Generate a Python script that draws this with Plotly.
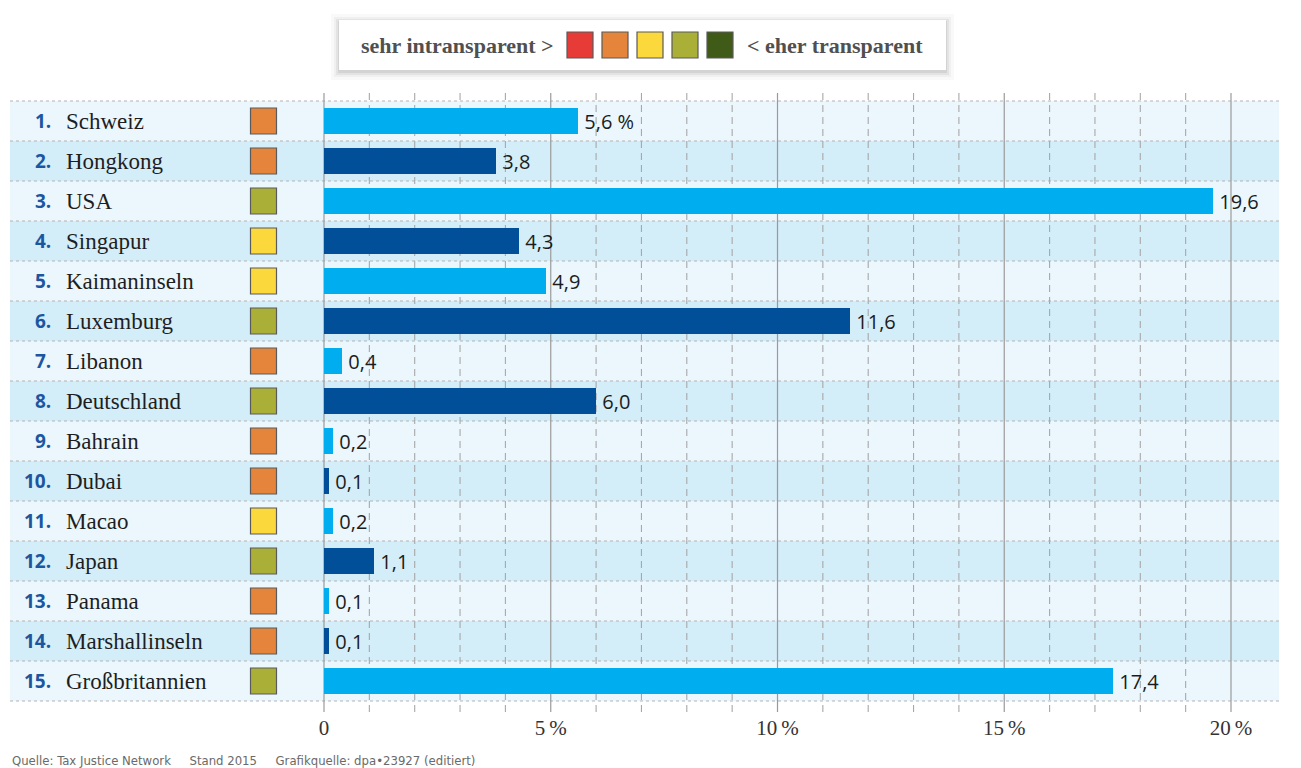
import plotly.graph_objects as go

# ---------------- data ----------------
ranks = list(range(1, 16))
countries = ["Schweiz", "Hongkong", "USA", "Singapur", "Kaimaninseln", "Luxemburg",
             "Libanon", "Deutschland", "Bahrain", "Dubai", "Macao", "Japan",
             "Panama", "Marshallinseln", "Großbritannien"]
shares = [5.6, 3.8, 19.6, 4.3, 4.9, 11.6, 0.4, 6.0, 0.2, 0.1, 0.2, 1.1, 0.1, 0.1, 17.4]
share_labels = ["5,6 %", "3,8", "19,6", "4,3", "4,9", "11,6", "0,4", "6,0", "0,2",
                "0,1", "0,2", "1,1", "0,1", "0,1", "17,4"]
# transparency level 1 (sehr intransparent) ... 5 (eher transparent)
levels = [2, 2, 4, 3, 3, 4, 2, 4, 2, 2, 3, 4, 2, 2, 4]
level_colors = ["#e63b37", "#e5843b", "#fbd83c", "#aab037", "#3f5b17"]
legend_left = "sehr intransparent >"
legend_right = "< eher transparent"
tick_vals = [0, 5, 10, 15, 20]
tick_text = ["0", "5\u2009%", "10\u2009%", "15\u2009%", "20\u2009%"]
source_parts = ["Quelle: Tax Justice Network", "Stand 2015", "Grafikquelle: dpa\u202223927 (editiert)"]

# ---------------- layout helpers ----------------
OFF = 8                      # default page margin of the html body
W, H = 1301 - OFF, 768 - OFF
X0_PX, PX_PER_UNIT = 324 - OFF, 45.35
ROW0_PX, ROW_PX = 121 - OFF, 40
PLOT_BOTTOM = 712 - OFF


def px_x(p):
    """page pixel -> x data"""
    return (p - OFF - X0_PX) / PX_PER_UNIT


def px_y(p):
    """page pixel -> y data"""
    return (p - OFF - ROW0_PX) / ROW_PX


def pap_x(p):
    return (p - OFF) / W


rows = list(range(len(countries)))
bar_light, bar_dark = "#00aeef", "#004f98"
band_light, band_dark = "#ebf7fd", "#d3edf9"
SERIF = "Liberation Serif, Times New Roman, serif"
SANS = "Open Sans, Noto Sans, sans-serif"

fig = go.Figure()
shapes = []
annotations = []

# row bands
for i in rows:
    shapes.append(dict(type="rect", layer="below", xref="paper", yref="y",
                       x0=pap_x(10), x1=pap_x(1279), y0=i - 0.5, y1=i + 0.5,
                       fillcolor=band_light if i % 2 == 0 else band_dark, line_width=0))

# vertical grid lines
for v in range(0, 21):
    solid = v % 5 == 0
    shapes.append(dict(type="line", layer="below", xref="x", yref="y",
                       x0=v, x1=v, y0=px_y(93), y1=px_y(712),
                       line=dict(color="#9a9a9a" if solid else "#a8a8a8",
                                 width=1.2 if solid else 1.1,
                                 dash="solid" if solid else "7px,5px")))

# dotted row separators
for i in range(len(rows) + 1):
    shapes.append(dict(type="line", layer="below", xref="paper", yref="y",
                       x0=pap_x(10), x1=pap_x(1279), y0=i - 0.5, y1=i - 0.5,
                       line=dict(color="#b4b4b4", width=1.2, dash="3px,3px")))

# legend box with soft shadow
for grow, op in [(8, 0.025), (5, 0.035), (3, 0.05), (1, 0.07)]:
    shapes.append(dict(type="rect", layer="below", xref="paper", yref="y",
                       x0=pap_x(339 - grow), x1=pap_x(946 + grow),
                       y0=px_y(20 - grow + 2), y1=px_y(70 + grow + 2),
                       fillcolor="rgba(0,0,0,1)", opacity=op, line_width=0))
shapes.append(dict(type="rect", layer="below", xref="paper", yref="y",
                   x0=pap_x(339), x1=pap_x(946), y0=px_y(20), y1=px_y(70),
                   fillcolor="white", line_width=0))

# bars
fig.add_trace(go.Bar(
    orientation="h", x=shares, y=rows, width=0.64,
    marker=dict(color=[bar_light if i % 2 == 0 else bar_dark for i in rows],
                line=dict(width=0)),
    text=["\u2009" + s for s in share_labels], textposition="outside",
    textfont=dict(family=SANS, size=20, color="#1c1c1c"),
    constraintext="none", cliponaxis=False, hoverinfo="skip", showlegend=False))

# transparency squares per country
fig.add_trace(go.Scatter(
    x=[px_x(263.5)] * len(rows), y=rows, mode="markers",
    marker=dict(symbol="square", size=26,
                color=[level_colors[l - 1] for l in levels],
                line=dict(color="#5a5a5a", width=1.2)),
    hoverinfo="skip", showlegend=False, cliponaxis=False))

# legend squares
legend_centers = [580, 615, 650, 685, 720]
fig.add_trace(go.Scatter(
    x=[px_x(c) for c in legend_centers], y=[px_y(45)] * 5, mode="markers",
    marker=dict(symbol="square", size=26, color=level_colors,
                line=dict(color="#5a5a5a", width=1.2)),
    hoverinfo="skip", showlegend=False, cliponaxis=False))

annotations.append(dict(xref="paper", yref="y", x=pap_x(556), y=px_y(45),
                        text=f"<b>{legend_left}</b>", showarrow=False, xanchor="right",
                        font=dict(family=SERIF, size=22, color="#505050")))
annotations.append(dict(xref="paper", yref="y", x=pap_x(745), y=px_y(45),
                        text=f"<b>{legend_right}</b>", showarrow=False, xanchor="left",
                        font=dict(family=SERIF, size=22, color="#505050")))

# rank numbers and country names
for i in rows:
    annotations.append(dict(xref="paper", yref="y", x=pap_x(53), y=i,
                            text=f"<b>{ranks[i]}.</b>", showarrow=False, xanchor="right",
                            font=dict(family=SANS, size=19, color="#1d56a0")))
    annotations.append(dict(xref="paper", yref="y", x=pap_x(64), y=i,
                            text=countries[i], showarrow=False, xanchor="left",
                            font=dict(family=SERIF, size=23, color="#1e1e1e")))

# source line
sep = "\u00a0" * 5
annotations.append(dict(xref="paper", yref="paper", x=pap_x(10), y=0,
                        yshift=-(760 - 712),
                        text=sep.join(source_parts), showarrow=False, xanchor="left",
                        yanchor="middle",
                        font=dict(family="Liberation Sans Narrow, DejaVu Sans Condensed, sans-serif",
                                  size=13, color="#6a6a6a")))

fig.update_layout(
    width=W, height=H,
    margin=dict(l=0, r=0, t=0, b=H - PLOT_BOTTOM, pad=0),
    paper_bgcolor="white", plot_bgcolor="white",
    shapes=shapes, annotations=annotations,
    xaxis=dict(range=[px_x(OFF), px_x(OFF + W)], showgrid=False, zeroline=False,
               showline=False, ticks="", tickvals=tick_vals, ticktext=tick_text,
               tickfont=dict(family=SERIF, size=21, color="#333333"),
               ticklabelstandoff=1, fixedrange=True),
    yaxis=dict(range=[px_y(OFF + PLOT_BOTTOM), px_y(OFF)], visible=False, fixedrange=True),
    bargap=0,
)

fig.write_html("out.html")
